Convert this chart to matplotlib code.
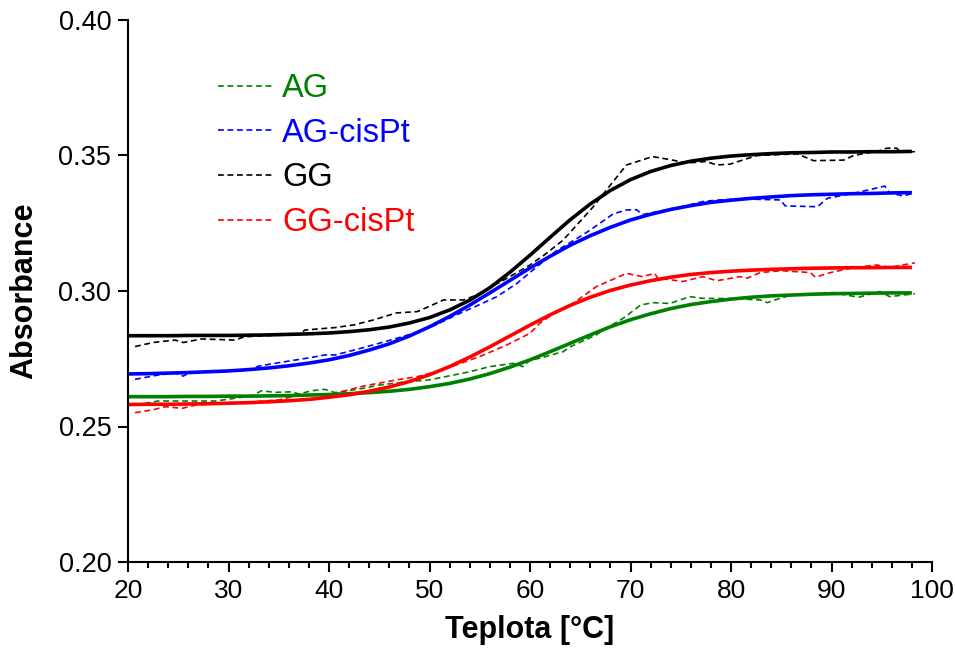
import matplotlib
matplotlib.use('Agg')
import matplotlib.pyplot as plt
from matplotlib.ticker import MultipleLocator

plt.rcParams.update({'font.family': ['Liberation Sans', 'DejaVu Sans']})

# fitted curves (read every 2 degC)
T_fit = [20, 22, 24, 26, 28, 30, 32, 34, 36, 38, 40, 42, 44, 46, 48, 50, 52, 54, 56, 58,
         60, 62, 64, 66, 68, 70, 72, 74, 76, 78, 80, 82, 84, 86, 88, 90, 92, 94, 96, 98]

AG_fit = [0.2610, 0.2610, 0.2610, 0.2611, 0.2611, 0.2612, 0.2612, 0.2613, 0.2614, 0.2616,
          0.2618, 0.2621, 0.2625, 0.2630, 0.2637, 0.2647, 0.2659, 0.2675, 0.2695, 0.2719,
          0.2746, 0.2776, 0.2807, 0.2838, 0.2868, 0.2894, 0.2916, 0.2935, 0.2950, 0.2961,
          0.2970, 0.2977, 0.2982, 0.2985, 0.2988, 0.2990, 0.2991, 0.2992, 0.2993, 0.2993]
AGPt_fit = [0.2694, 0.2695, 0.2697, 0.2699, 0.2702, 0.2705, 0.2710, 0.2716, 0.2724, 0.2734,
            0.2746, 0.2762, 0.2782, 0.2805, 0.2834, 0.2868, 0.2906, 0.2948, 0.2993, 0.3039,
            0.3085, 0.3128, 0.3169, 0.3204, 0.3235, 0.3262, 0.3283, 0.3301, 0.3315, 0.3327,
            0.3335, 0.3342, 0.3347, 0.3352, 0.3355, 0.3357, 0.3359, 0.3360, 0.3362, 0.3363]
GG_fit = [0.2835, 0.2835, 0.2835, 0.2836, 0.2836, 0.2836, 0.2837, 0.2838, 0.2840, 0.2842,
          0.2845, 0.2850, 0.2857, 0.2867, 0.2882, 0.2902, 0.2930, 0.2966, 0.3012, 0.3069,
          0.3132, 0.3198, 0.3263, 0.3321, 0.3371, 0.3411, 0.3441, 0.3463, 0.3479, 0.3490,
          0.3498, 0.3503, 0.3507, 0.3510, 0.3511, 0.3513, 0.3513, 0.3514, 0.3514, 0.3515]
GGPt_fit = [0.2581, 0.2582, 0.2582, 0.2583, 0.2584, 0.2586, 0.2588, 0.2591, 0.2595, 0.2600,
            0.2608, 0.2617, 0.2630, 0.2646, 0.2666, 0.2691, 0.2721, 0.2756, 0.2794, 0.2834,
            0.2874, 0.2912, 0.2947, 0.2977, 0.3002, 0.3022, 0.3038, 0.3051, 0.3061, 0.3068,
            0.3073, 0.3077, 0.3080, 0.3082, 0.3084, 0.3085, 0.3086, 0.3086, 0.3087, 0.3087]

# measured data (dashed)
T_AG = [20.7, 23, 28.7, 30.6, 32.3, 33.3, 34.6, 36.3, 37, 38.3, 39.6, 40.6, 43.4, 45, 47.7,
        50, 54, 56, 58.3, 59.3, 60, 61, 62.7, 63.3, 64, 66.6, 67.3, 69.3, 71, 72.2, 73.9,
        75.9, 77.2, 80, 82.9, 83.6, 84.2, 86, 90.1, 92.7, 94.8, 95.8, 97.1, 98.3]
AG = [0.2579, 0.2594, 0.2594, 0.2604, 0.2613, 0.2632, 0.2626, 0.2628, 0.2620, 0.2632, 0.2637,
      0.2625, 0.2641, 0.2653, 0.2665, 0.2672, 0.2702, 0.2721, 0.2733, 0.2721, 0.2745, 0.2752,
      0.2770, 0.2776, 0.2794, 0.2838, 0.2856, 0.2900, 0.2948, 0.2957, 0.2954, 0.2979, 0.2973,
      0.2972, 0.2967, 0.2957, 0.2965, 0.2985, 0.2994, 0.2977, 0.2998, 0.2979, 0.2985, 0.2990]

T_AGPt = [20.7, 23, 24.7, 25.5, 26.3, 28, 30, 32.3, 33, 35.6, 38.3, 39.6, 40.6, 42.5, 44.4,
          46.7, 48.8, 50.5, 52.7, 54.7, 56.7, 58.7, 60.7, 62.5, 64.5, 66, 68.3, 69.6, 70.6,
          71.2, 73, 75, 77.2, 78.5, 81, 84.9, 85.4, 88.6, 89.6, 92.5, 95.3, 95.8, 97.1, 98.3]
AGPt = [0.2674, 0.2690, 0.2697, 0.2686, 0.2702, 0.2703, 0.2706, 0.2712, 0.2723, 0.2739,
        0.2755, 0.2764, 0.2764, 0.2782, 0.2801, 0.2825, 0.2848, 0.2873, 0.2912, 0.2945,
        0.2979, 0.3028, 0.3090, 0.3145, 0.3190, 0.3225, 0.3285, 0.3299, 0.3300, 0.3282,
        0.3295, 0.3310, 0.3330, 0.3335, 0.3340, 0.3336, 0.3314, 0.3311, 0.3342, 0.3363,
        0.3387, 0.3362, 0.3351, 0.3362]

T_GG = [20.7, 22.5, 24.7, 25.5, 27.3, 30.6, 31.6, 34, 37, 37.6, 40.6, 42.5, 44.4, 46.7, 48.8,
        51.4, 53.4, 54.7, 57.7, 60, 61.5, 63.3, 66.3, 68, 69.6, 72.2, 74.2, 75.6, 77.5, 78.6,
        79.9, 80.9, 82.6, 86.6, 88.2, 91.2, 92.2, 94.8, 95.5, 96.5, 96.8, 98.3]
GG = [0.2795, 0.2810, 0.2819, 0.2810, 0.2823, 0.2819, 0.2831, 0.2836, 0.2838, 0.2856, 0.2865,
      0.2875, 0.2893, 0.2919, 0.2924, 0.2967, 0.2967, 0.2985, 0.3047, 0.3096, 0.3135, 0.3188,
      0.3311, 0.3391, 0.3465, 0.3496, 0.3483, 0.3472, 0.3478, 0.3465, 0.3468, 0.3480, 0.3500,
      0.3506, 0.3481, 0.3483, 0.3500, 0.3518, 0.3527, 0.3527, 0.3514, 0.3514]

T_GGPt = [20.7, 22.4, 23.7, 25.4, 26.7, 29, 32, 35, 37, 40.6, 43.4, 46.7, 48.8, 51, 54, 55,
          57.7, 60, 61, 62.5, 64.3, 66.6, 69.6, 71.2, 72.4, 72.7, 75.2, 77.2, 78.6, 80.9, 81.6,
          82.9, 85, 87.9, 88.4, 89.9, 92, 94.5, 95.8, 97.1, 98.3]
GGPt = [0.2551, 0.2561, 0.2573, 0.2567, 0.2579, 0.2585, 0.2590, 0.2598, 0.2616, 0.2622,
        0.2649, 0.2672, 0.2684, 0.2705, 0.2745, 0.2758, 0.2801, 0.2844, 0.2882, 0.2920,
        0.2955, 0.3016, 0.3065, 0.3053, 0.3065, 0.3048, 0.3035, 0.3053, 0.3038, 0.3053,
        0.3047, 0.3068, 0.3075, 0.3068, 0.3051, 0.3068, 0.3085, 0.3096, 0.3087, 0.3096, 0.3104]

GREEN = '#008000'
BLUE = '#0000ff'
BLACK = '#000000'
RED = '#ff0000'

fig = plt.figure(figsize=(9.55, 6.52), dpi=100)
ax = fig.add_axes([128 / 955, 1 - 562 / 652, 804 / 955, 542 / 652])

dash = dict(linestyle=(0, (3.5, 2.2)), linewidth=1.2)
ax.plot(T_AG, AG, color=GREEN, label='AG', **dash)
ax.plot(T_AGPt, AGPt, color=BLUE, label='AG-cisPt', **dash)
ax.plot(T_GG, GG, color=BLACK, label='GG', **dash)
ax.plot(T_GGPt, GGPt, color=RED, label='GG-cisPt', **dash)

ax.plot(T_fit, AG_fit, color=GREEN, linewidth=2.6, solid_capstyle='butt')
ax.plot(T_fit, AGPt_fit, color=BLUE, linewidth=2.6, solid_capstyle='butt')
ax.plot(T_fit, GG_fit, color=BLACK, linewidth=2.6, solid_capstyle='butt')
ax.plot(T_fit, GGPt_fit, color=RED, linewidth=2.6, solid_capstyle='butt')

ax.set_xlim(20, 100)
ax.set_ylim(0.20, 0.40)
ax.xaxis.set_major_locator(MultipleLocator(10))
ax.xaxis.set_minor_locator(MultipleLocator(2))
ax.yaxis.set_major_locator(MultipleLocator(0.05))
ax.yaxis.set_major_formatter(plt.FormatStrFormatter('%.2f'))

for s in ['top', 'right']:
    ax.spines[s].set_visible(False)
for s in ['left', 'bottom']:
    ax.spines[s].set_linewidth(1.5)

ax.tick_params(axis='both', which='major', direction='out', length=7, width=1.5)
ax.tick_params(axis='x', which='minor', direction='out', length=4, width=1.5)
ax.tick_params(axis='y', labelsize=19.5, pad=5)
ax.tick_params(axis='x', labelsize=19, pad=5)

ax.set_xlabel('Teplota [°C]', fontsize=22, fontweight='bold', labelpad=9)
ax.set_ylabel('Absorbance', fontsize=22, fontweight='bold', labelpad=14)

leg = ax.legend(loc='upper left', bbox_to_anchor=((218 - 128) / 804, (562 - 73) / 542),
                frameon=False, fontsize=23.5, handlelength=1.7, handletextpad=0.26,
                labelspacing=0.42, borderpad=0, borderaxespad=0, labelcolor='linecolor')

fig.savefig('out.png', dpi=100)
